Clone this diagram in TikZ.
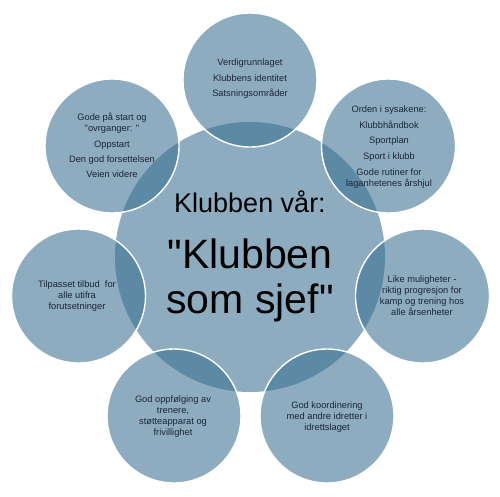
\documentclass[tikz,border=0pt]{standalone}
\usepackage{fontspec}
\setmainfont{Liberation Sans}[Ligatures=TeXOff]
\definecolor{bubblefill}{HTML}{8EACC0}
\definecolor{overlapfill}{HTML}{5C8AA5}
\definecolor{ink}{HTML}{1B2535}
\begin{document}
\begin{tikzpicture}[x=1pt,y=-1pt,
  bubble/.style={circle, fill=bubblefill, inner sep=0pt, draw=none},
  hubcircle/.style={bubble, minimum size=270pt},
  outercircle/.style={bubble, minimum size=134pt},
  rim/.style={draw=white, line width=1.4pt},
  smalltxt/.style={align=center, text=ink, font=\fontsize{9.3}{11}\selectfont, inner sep=0pt},
  bigtxt/.style={text=black, inner sep=0pt, anchor=base}]
\useasboundingbox (0,0) rectangle (500,496);

% hub and outer circles
\node[hubcircle] (hub) at (250,257) {};
\node[outercircle] (o1) at (250,80) {};
\node[outercircle] (o2) at (388.5,146) {};
\node[outercircle] (o3) at (422.5,296) {};
\node[outercircle] (o4) at (327,416) {};
\node[outercircle] (o5) at (174,416) {};
\node[outercircle] (o6) at (78.5,296) {};
\node[outercircle] (o7) at (112,146) {};

% overlaps
\begin{scope}
  \clip (hub.center) circle[radius=135pt];
  \foreach \o in {o1,o2,o3,o4,o5,o6,o7}
    \fill[overlapfill] (\o.center) circle[radius=67pt];
\end{scope}

% white rims of outer circles
\foreach \o in {o1,o2,o3,o4,o5,o6,o7}
  \path[rim] (\o.center) circle[radius=67pt];

% texts
\node[smalltxt] (t1) at (250,79) {Verdigrunnlaget\\[4.5pt]Klubbens identitet\\[4.5pt]Satsningsområder};
\node[smalltxt] (t2) at (389,147) {Orden i sysakene:\\[4.5pt]Klubbhåndbok\\[4.5pt]Sportplan\\[4.5pt]Sport i klubb\\[5pt]Gode rutiner for\\laganhetenes årshjul};
\node[smalltxt] (t3) at (422,295.5) {Like muligheter -\\riktig progresjon for\\kamp og trening hos\\alle årsenheter};
\node[smalltxt] (t4) at (327,417) {God koordinering\\med andre idretter i\\idrettslaget};
\node[smalltxt] (t5) at (173,416.5) {God oppfølging av\\trenere,\\støtteapparat og\\frivillighet};
\node[smalltxt] (t6) at (77,296) {Tilpasset tilbud\ \ for\\alle utifra\\forutsetninger};
\node[smalltxt] (t7) at (112,145.5) {Gode på start og\\"ovrganger: "\\[5pt]Oppstart\\[3.5pt]Den god forsettelsen\\[4pt]Veien videre};

\node[bigtxt, font=\fontsize{27}{30}\selectfont] (h1) at (250,212) {Klubben vår:};
\node[bigtxt, font=\fontsize{41}{45}\selectfont] (h2) at (250,268) {"Klubben};
\node[bigtxt, font=\fontsize{41}{45}\selectfont] (h3) at (250,313) {som sjef"};
\end{tikzpicture}
\end{document}
